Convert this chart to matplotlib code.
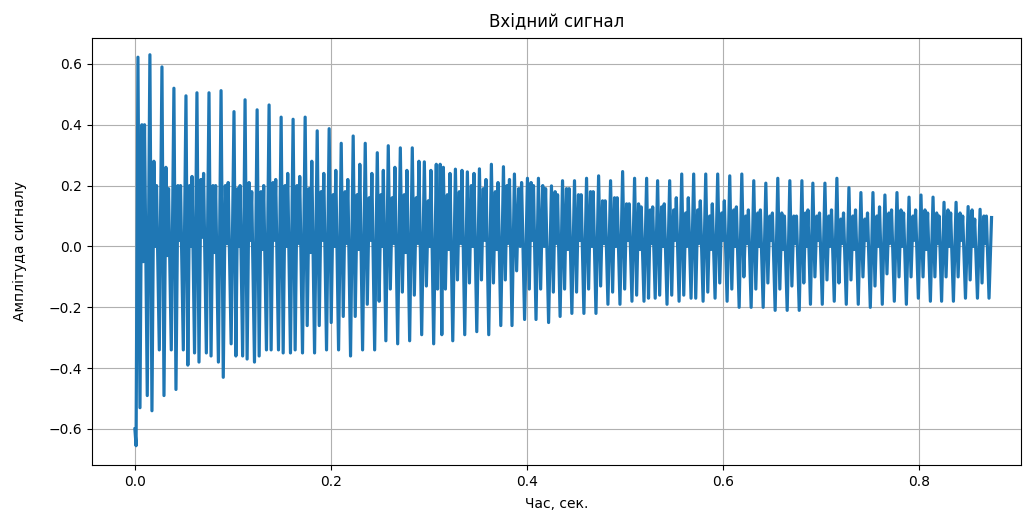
import numpy as np
import matplotlib
matplotlib.use('Agg')
import matplotlib.pyplot as plt

# times of the tall peaks, sec
peak_t = [0.0031, 0.0153, 0.0276, 0.0398, 0.0521, 0.0633, 0.0756, 0.0879, 0.1011, 0.1124,
          0.1247, 0.1369, 0.1492, 0.1614, 0.1737, 0.1860, 0.1982, 0.2105, 0.2227, 0.2350,
          0.2473, 0.2585, 0.2708, 0.2830, 0.2953, 0.3075, 0.3147, 0.3270, 0.3392, 0.3515,
          0.3637, 0.3760, 0.3872, 0.4005, 0.4117, 0.4250, 0.4363, 0.4485, 0.4608, 0.4731,
          0.4853, 0.4976, 0.5098, 0.5221, 0.5333, 0.5456, 0.5579, 0.5701, 0.5824, 0.5946,
          0.6069, 0.6192, 0.6314, 0.6437, 0.6559, 0.6682, 0.6805, 0.6917, 0.7040, 0.7162,
          0.7285, 0.7407, 0.7530, 0.7652, 0.7775, 0.7898, 0.8020, 0.8143, 0.8255, 0.8378,
          0.8501, 0.8623, 0.8740]

# tall peak of every period
peak_hi = [0.622, 0.630, 0.590, 0.520, 0.495, 0.505, 0.505, 0.512, 0.443, 0.482,
           0.449, 0.465, 0.425, 0.418, 0.425, 0.380, 0.387, 0.339, 0.363, 0.339,
           0.308, 0.331, 0.324, 0.324, 0.278, 0.270, 0.260, 0.254, 0.245, 0.255,
           0.270, 0.262, 0.238, 0.224, 0.224, 0.199, 0.216, 0.216, 0.224, 0.232,
           0.216, 0.246, 0.224, 0.224, 0.216, 0.216, 0.238, 0.238, 0.238, 0.238,
           0.232, 0.238, 0.216, 0.208, 0.224, 0.216, 0.216, 0.208, 0.208, 0.224,
           0.193, 0.177, 0.177, 0.169, 0.177, 0.162, 0.169, 0.162, 0.145, 0.145,
           0.131, 0.122, 0.095]

# low just after the tall peak
low_a = [-0.53, -0.54, -0.49, -0.47, -0.39, -0.38, -0.36, -0.43, -0.36, -0.37,
         -0.36, -0.34, -0.35, -0.34, -0.26, -0.26, -0.25, -0.23, -0.23, -0.19,
         -0.18, -0.14, -0.15, -0.16, -0.13, -0.14, -0.14, -0.11, -0.12, -0.11,
         -0.12, -0.11, -0.08, -0.14, -0.14, -0.15, -0.14, -0.15, -0.14, -0.13,
         -0.15, -0.14, -0.16, -0.17, -0.16, -0.16, -0.16, -0.17, -0.15, -0.12,
         -0.14, -0.10, -0.14, -0.12, -0.14, -0.13, -0.12, -0.10, -0.11, -0.12,
         -0.11, -0.10, -0.13, -0.09, -0.10, -0.10, -0.10, -0.10, -0.10, -0.10,
         -0.11, -0.12]

# first secondary peak
sec_a = [0.40, 0.28, 0.26, 0.20, 0.20, 0.22, 0.20, 0.20, 0.19, 0.21,
         0.18, 0.21, 0.20, 0.20, 0.19, 0.18, 0.17, 0.18, 0.17, 0.16,
         0.17, 0.16, 0.17, 0.16, 0.15, 0.16, 0.17, 0.18, 0.20, 0.19,
         0.18, 0.20, 0.19, 0.21, 0.20, 0.18, 0.19, 0.17, 0.18, 0.15,
         0.16, 0.14, 0.14, 0.12, 0.13, 0.12, 0.11, 0.12, 0.10, 0.11,
         0.12, 0.10, 0.11, 0.10, 0.11, 0.10, 0.11, 0.10, 0.10, 0.09,
         0.10, 0.09, 0.10, 0.11, 0.12, 0.10, 0.12, 0.11, 0.12, 0.11,
         0.12, 0.10]

# dip between the two secondary peaks
dip = [-0.05, 0.00, -0.03, 0.02, 0.00, 0.03, -0.02, 0.01, 0.00, 0.02,
       -0.01, 0.02, 0.00, 0.01, -0.02, 0.02, 0.00, 0.01, -0.01, 0.02,
       0.00, 0.01, -0.02, 0.01, 0.00, 0.02, -0.01, 0.01, 0.00, 0.02,
       -0.01, 0.01, 0.00, 0.02, 0.00, 0.01, -0.01, 0.02, 0.00, 0.01,
       0.00, 0.02, -0.01, 0.01, 0.00, 0.02, 0.00, 0.01, -0.01, 0.02,
       0.00, 0.01, 0.00, 0.02, -0.01, 0.01, 0.00, 0.02, 0.00, 0.01,
       -0.01, 0.02, 0.00, 0.01, 0.00, 0.02, -0.01, 0.01, 0.00, 0.02,
       0.00, 0.01]

# second secondary peak
sec_b = [0.40, 0.20, 0.19, 0.20, 0.23, 0.24, 0.20, 0.21, 0.20, 0.18,
         0.20, 0.22, 0.24, 0.23, 0.28, 0.24, 0.25, 0.22, 0.27, 0.24,
         0.25, 0.26, 0.25, 0.28, 0.25, 0.27, 0.24, 0.25, 0.24, 0.22,
         0.21, 0.22, 0.21, 0.20, 0.19, 0.17, 0.19, 0.17, 0.18, 0.15,
         0.16, 0.14, 0.13, 0.13, 0.14, 0.16, 0.16, 0.15, 0.14, 0.15,
         0.13, 0.12, 0.12, 0.11, 0.10, 0.10, 0.12, 0.11, 0.12, 0.11,
         0.12, 0.11, 0.13, 0.12, 0.11, 0.12, 0.11, 0.10, 0.11, 0.10,
         0.09, 0.10]

# deep low before the next tall peak
low_b = [-0.49, -0.34, -0.34, -0.34, -0.35, -0.35, -0.38, -0.32, -0.36, -0.38,
         -0.34, -0.34, -0.35, -0.35, -0.35, -0.34, -0.34, -0.36, -0.34, -0.34,
         -0.31, -0.32, -0.31, -0.29, -0.32, -0.29, -0.31, -0.29, -0.28, -0.29,
         -0.26, -0.26, -0.24, -0.24, -0.25, -0.23, -0.22, -0.22, -0.22, -0.19,
         -0.19, -0.18, -0.18, -0.17, -0.19, -0.18, -0.17, -0.18, -0.17, -0.18,
         -0.20, -0.20, -0.20, -0.21, -0.21, -0.21, -0.19, -0.19, -0.18, -0.19,
         -0.19, -0.20, -0.19, -0.18, -0.19, -0.17, -0.18, -0.18, -0.18, -0.17,
         -0.17, -0.17]

start_t = [0.0, 0.0012]
start_v = [-0.60, -0.655]

# place points inside each period
phase = [0.0, 0.17, 0.33, 0.44, 0.55, 0.78]
t = list(start_t)
v = list(start_v)
for i in range(len(peak_t) - 1):
    t0, t1 = peak_t[i], peak_t[i + 1]
    vals = [peak_hi[i], low_a[i], sec_a[i], dip[i], sec_b[i], low_b[i]]
    for p, val in zip(phase, vals):
        t.append(t0 + p * (t1 - t0))
        v.append(val)
t.append(peak_t[-1])
v.append(peak_hi[-1])

fig = plt.figure(figsize=(10.23, 5.12), dpi=100)
ax = fig.add_axes([0.09, 0.092, 0.908, 0.834])
ax.plot(t, v, color='#1f77b4', lw=2.3)
ax.set_xlim(-0.0437, 0.904)
ax.set_ylim(-0.718, 0.6855)
ax.grid(True)
ax.set_title('Вхідний сигнал', pad=8)
ax.set_xlabel('Час, сек.', labelpad=6)
ax.set_ylabel('Амплітуда сигналу', labelpad=16)
fig.savefig('out.png', dpi=100)
